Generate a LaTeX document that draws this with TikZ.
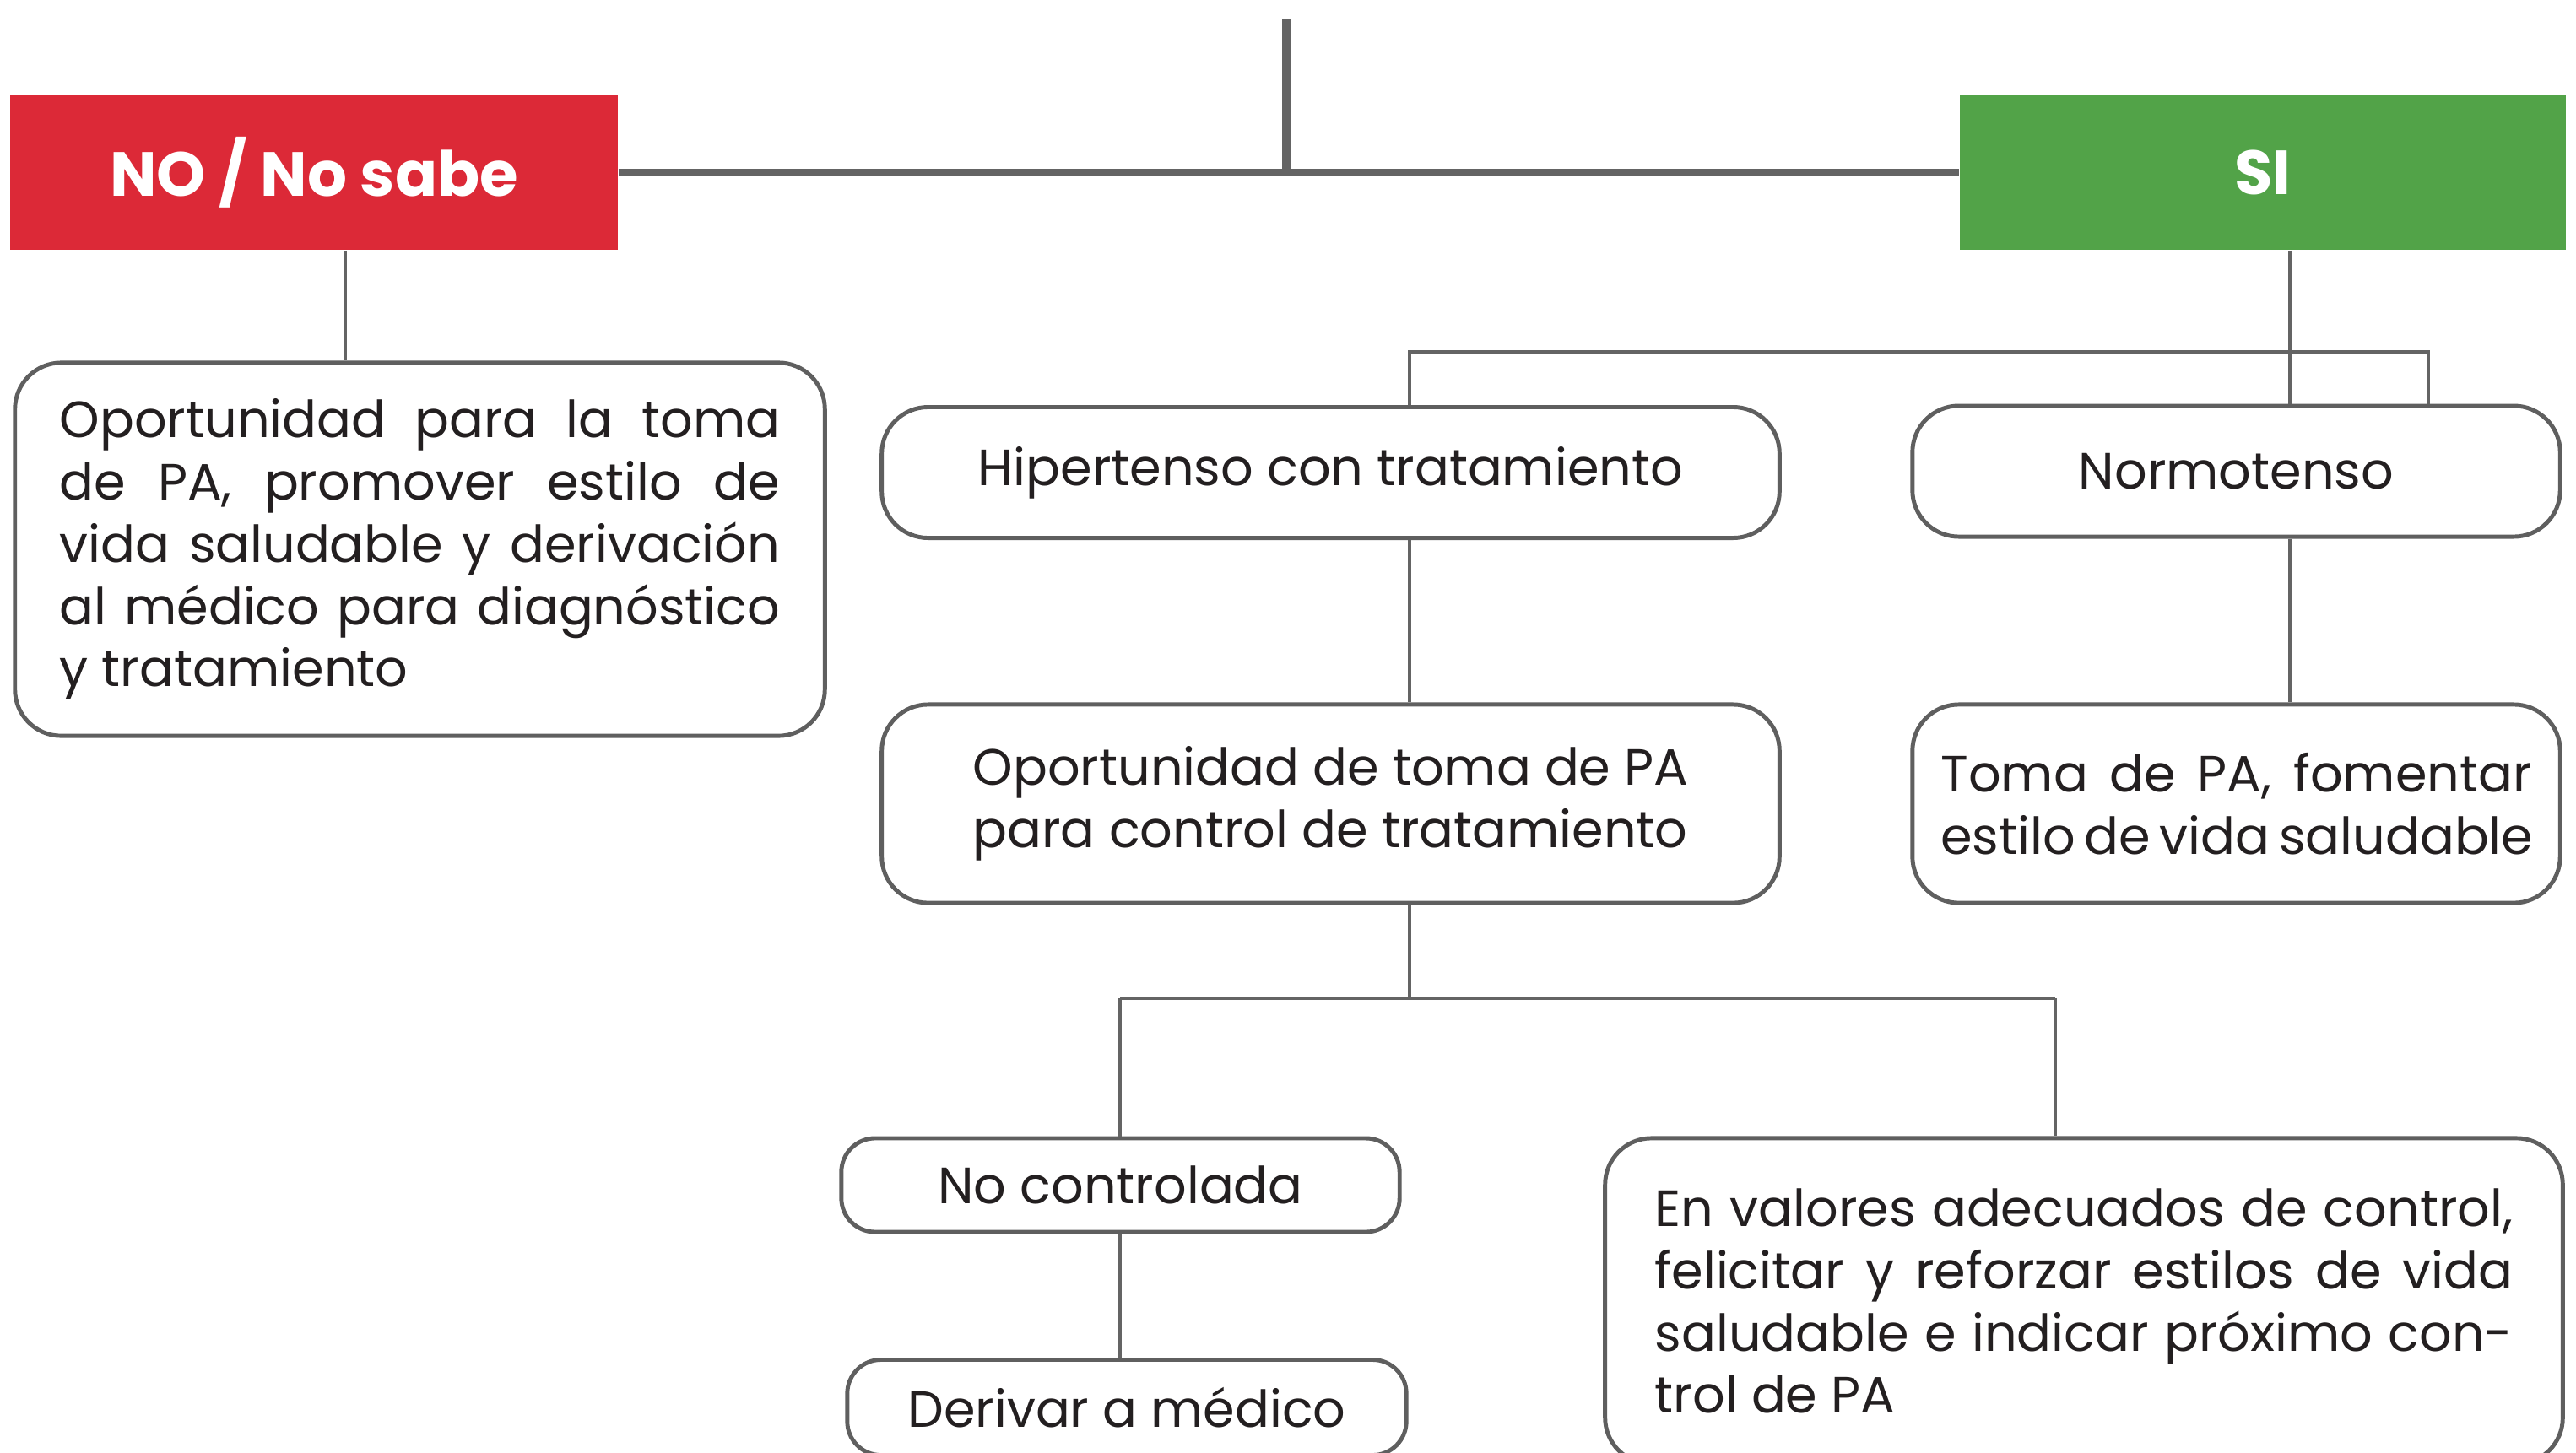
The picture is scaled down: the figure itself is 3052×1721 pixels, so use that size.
\documentclass[tikz,border=0pt]{standalone}
\usepackage{fontspec}
\setmainfont{Poppins}
\definecolor{nored}{RGB}{220,41,55}
\definecolor{sigreen}{RGB}{82,163,72}
\definecolor{linegray}{RGB}{100,100,100}
\definecolor{boxgray}{RGB}{95,95,95}
\definecolor{txt}{RGB}{35,31,32}
\begin{document}
\begin{tikzpicture}[x=0.01cm,y=-0.01cm,
  head/.style={rectangle,inner sep=0pt,text=white,font=\fontsize{21pt}{25pt}\selectfont\bfseries},
  rbox/.style={rectangle,rounded corners=0.55cm,draw=boxgray,line width=1.4pt,fill=white,inner sep=0pt,text=txt,align=left,font=\fontsize{17.2pt}{21pt}\selectfont},
  sbox/.style={rbox,rounded corners=0.4cm},
  conn/.style={draw=linegray,line width=1.15pt},
  thickconn/.style={draw=linegray,line width=2.8pt}]
\useasboundingbox (0,0) rectangle (3052,1721);
\clip (0,0) rectangle (3052,1721);
\fill[white] (0,0) rectangle (3052,1721);
% header boxes
\node[head,fill=nored,minimum width=7.2cm,minimum height=1.83cm] (no) at (372,204.5) {NO / No sabe};
\node[head,fill=sigreen,minimum width=7.18cm,minimum height=1.83cm] (si) at (2681,204.5) {SI};
% content boxes
\node[rbox,minimum width=9.59cm,minimum height=4.42cm] (left) at (497.5,651)
 {\makebox[8.53cm][s]{Oportunidad para la toma}\\
  \makebox[8.53cm][s]{de PA, promover estilo de}\\
  \makebox[8.53cm][s]{vida saludable y derivación}\\
  \makebox[8.53cm][s]{al médico para diagnóstico}\\
  y tratamiento};
\node[rbox,align=center,minimum width=10.63cm,minimum height=1.55cm] (hip) at (1576.5,560) {Hipertenso con tratamiento};
\node[rbox,align=center,minimum width=7.67cm,minimum height=1.55cm] (norm) at (2649.5,558.5) {Normotenso};
\node[rbox,minimum width=10.63cm,minimum height=2.35cm] (opo) at (1576.5,952.5)
 {Oportunidad de toma de PA\\para control de tratamiento};
\node[rbox,minimum width=7.67cm,minimum height=2.35cm] (toma) at (2649.5,952.5)
 {\makebox[7.0cm][s]{Toma de PA, fomentar}\\
  \makebox[7.0cm][s]{estilo de vida saludable}};
\node[sbox,align=center,minimum width=6.61cm,minimum height=1.11cm] (noc) at (1327.5,1404.5) {No controlada};
\node[sbox,align=center,minimum width=6.62cm,minimum height=1.13cm] (der) at (1335,1668) {Derivar a médico};
\node[rbox,minimum width=11.34cm,minimum height=3.86cm] (enval) at (2469,1542)
 {\makebox[10.16cm][s]{En valores adecuados de control,}\\
  \makebox[10.16cm][s]{felicitar y reforzar estilos de vida}\\
  \makebox[10.16cm][s]{saludable e indicar próximo con-}\\
  trol de PA};
% coordinates
\coordinate (top) at (1524,23);
\coordinate (xl) at (409,0);
\coordinate (xs) at (2713,0);
\coordinate (hb1) at (1670,417);
\coordinate (hb2) at (2877,417);
\coordinate (xh) at (1670,0);
\coordinate (lb) at (1670,1183);
\coordinate (lb1) at (1327,1183);
\coordinate (lb2) at (2435,1183);
% connectors
\draw[thickconn] (no.east) -- (si.west);
\draw[thickconn] (top) -- (top |- no.east);
\draw[conn] (no.south -| xl) -- (left.north -| xl);
\draw[conn] (si.south -| xs) -- (norm.north -| xs);
\draw[conn] (hip.north -| hb1) -- (hb1) -- (hb2) -- (norm.north -| hb2);
\draw[conn] (hip.south -| xh) -- (opo.north -| xh);
\draw[conn] (norm.south -| xs) -- (toma.north -| xs);
\draw[conn] (opo.south -| xh) -- (lb);
\draw[conn] (lb1) -- (lb2);
\draw[conn] (lb1) -- (noc.north -| lb1);
\draw[conn] (lb2) -- (enval.north -| lb2);
\draw[conn] (noc.south -| lb1) -- (der.north -| lb1);
\end{tikzpicture}
\end{document}
